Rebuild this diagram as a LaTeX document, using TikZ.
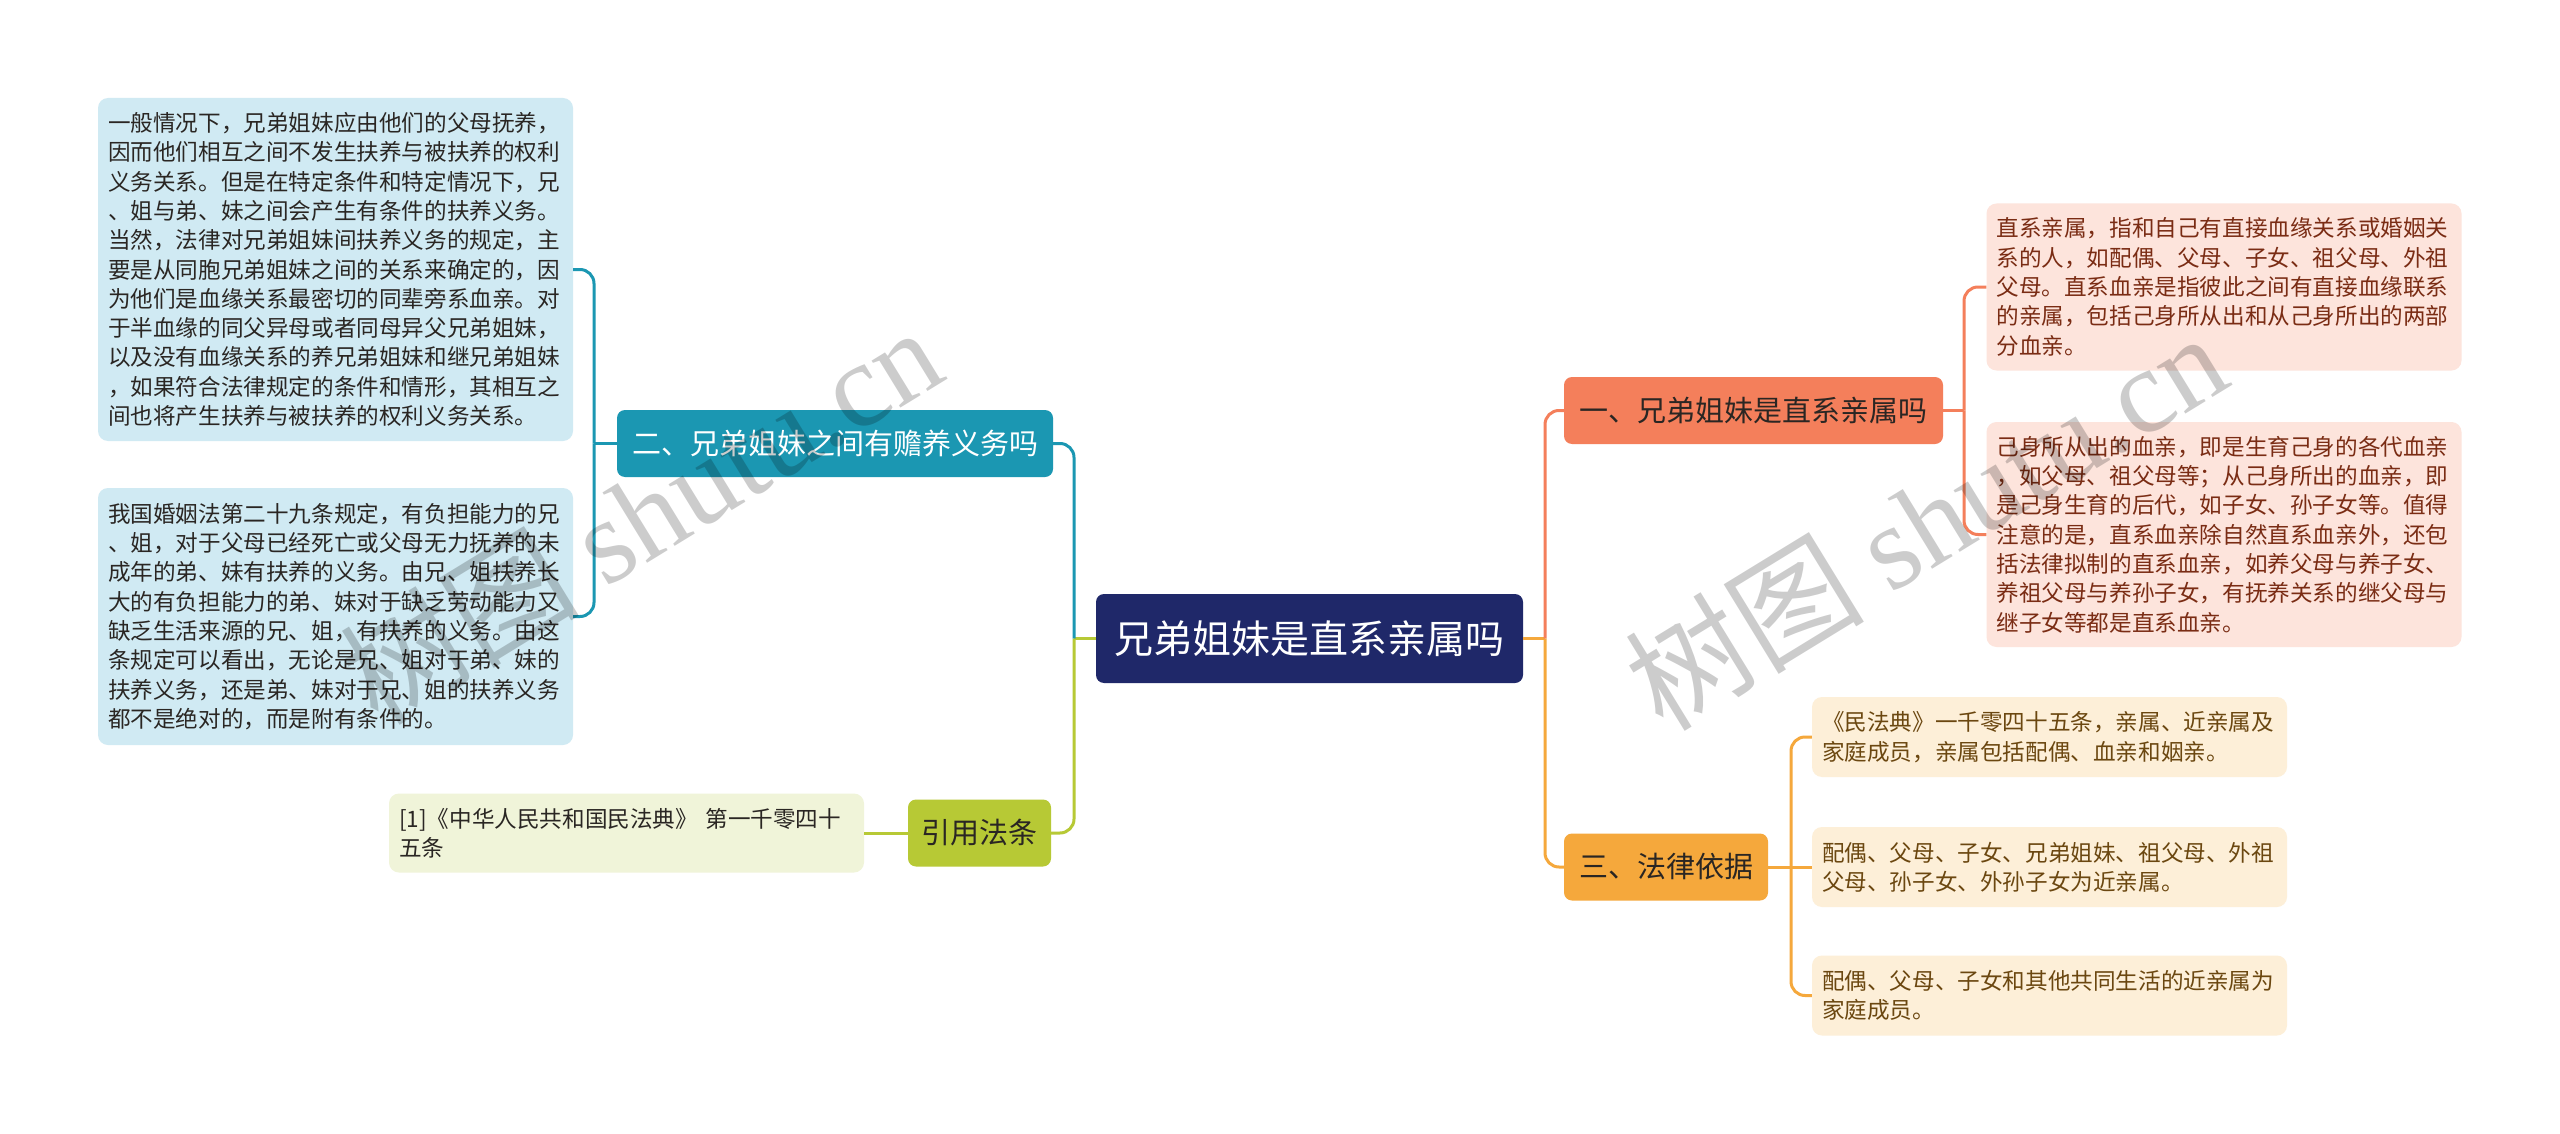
\documentclass[tikz,border=0pt]{standalone}
\usepackage{fontspec}
\setmainfont{Noto Sans CJK SC}
\newfontfamily\wmlatin{Liberation Serif}
\definecolor{navy}{HTML}{1F2869}
\definecolor{tealc}{HTML}{1B97B2}
\definecolor{bluel}{HTML}{D0EAF3}
\definecolor{limec}{HTML}{B7C935}
\definecolor{limel}{HTML}{F0F4D9}
\definecolor{coralc}{HTML}{F47F5B}
\definecolor{pinkl}{HTML}{FDE4DC}
\definecolor{orangec}{HTML}{F5A83C}
\definecolor{orangel}{HTML}{FDEFD8}
\definecolor{darktxt}{HTML}{2A2623}
\definecolor{redtxt}{HTML}{7A2C14}
\definecolor{browntxt}{HTML}{6B4710}
\begin{document}
\begin{tikzpicture}[x=1pt,y=-1pt,
  central/.style={fill=navy,text=white,rounded corners=8pt,inner sep=0pt,
    minimum width=427pt,minimum height=89pt,font=\fontsize{39}{45}\selectfont},
  branch/.style={rounded corners=8pt,inner sep=0pt,minimum height=67pt,
    text=darktxt,font=\fontsize{29}{35}\selectfont},
  leaf/.style={rounded corners=10pt,inner xsep=10pt,inner ysep=0pt,
    text width=455pt,align=left,font=\fontsize{22.6}{29.3}\selectfont},
  conn/.style={line width=3pt,rounded corners=14pt},
  wm/.style={text=black,opacity=0.2,font=\fontsize{120}{120}\selectfont}
]
\useasboundingbox (0,0) rectangle (2560,1134);
\fill[white] (0,0) rectangle (2560,1134);

% central
\node[central] (c) at (1309.5,638.5) {兄弟姐妹是直系亲属吗};

% level-1 branches
\node[branch,fill=tealc,text=white,minimum width=436pt] (n2) at (835,443.5) {二、兄弟姐妹之间有赡养义务吗};
\node[branch,fill=limec,minimum width=143pt] (n4) at (979.5,833) {引用法条};
\node[branch,fill=coralc,minimum width=379pt] (n1) at (1753.5,410.5) {一、兄弟姐妹是直系亲属吗};
\node[branch,fill=orangec,minimum width=204pt] (n3) at (1666,867) {三、法律依据};

% left leaves
\node[leaf,fill=bluel,text=darktxt,minimum height=343pt] (lA) at (335.5,269.5) {一般情况下，兄弟姐妹应由他们的父母抚养，\\因而他们相互之间不发生扶养与被扶养的权利\\义务关系。但是在特定条件和特定情况下，兄\\、姐与弟、妹之间会产生有条件的扶养义务。\\当然，法律对兄弟姐妹间扶养义务的规定，主\\要是从同胞兄弟姐妹之间的关系来确定的，因\\为他们是血缘关系最密切的同辈旁系血亲。对\\于半血缘的同父异母或者同母异父兄弟姐妹，\\以及没有血缘关系的养兄弟姐妹和继兄弟姐妹\\，如果符合法律规定的条件和情形，其相互之\\间也将产生扶养与被扶养的权利义务关系。};
\node[leaf,fill=bluel,text=darktxt,minimum height=257pt] (lB) at (335.5,616.5) {我国婚姻法第二十九条规定，有负担能力的兄\\、姐，对于父母已经死亡或父母无力抚养的未\\成年的弟、妹有扶养的义务。由兄、姐扶养长\\大的有负担能力的弟、妹对于缺乏劳动能力又\\缺乏生活来源的兄、姐，有扶养的义务。由这\\条规定可以看出，无论是兄、姐对于弟、妹的\\扶养义务，还是弟、妹对于兄、姐的扶养义务\\都不是绝对的，而是附有条件的。};
\node[leaf,fill=limel,text=darktxt,minimum height=79pt] (lC) at (626.5,833) {[1]《中华人民共和国民法典》 第一千零四十\\五条};

% right leaves
\node[leaf,fill=pinkl,text=redtxt,minimum height=167pt] (r1) at (2224,287) {直系亲属，指和自己有直接血缘关系或婚姻关\\系的人，如配偶、父母、子女、祖父母、外祖\\父母。直系血亲是指彼此之间有直接血缘联系\\的亲属，包括己身所从出和从己身所出的两部\\分血亲。};
\node[leaf,fill=pinkl,text=redtxt,minimum height=225pt] (r2) at (2224,534.5) {己身所从出的血亲，即是生育己身的各代血亲\\，如父母、祖父母等；从己身所出的血亲，即\\是己身生育的后代，如子女、孙子女等。值得\\注意的是，直系血亲除自然直系血亲外，还包\\括法律拟制的直系血亲，如养父母与养子女、\\养祖父母与养孙子女，有抚养关系的继父母与\\继子女等都是直系血亲。};
\node[leaf,fill=orangel,text=browntxt,minimum height=80pt] (r3) at (2049.5,737) {《民法典》一千零四十五条，亲属、近亲属及\\家庭成员，亲属包括配偶、血亲和姻亲。};
\node[leaf,fill=orangel,text=browntxt,minimum height=80pt] (r4) at (2049.5,867) {配偶、父母、子女、兄弟姐妹、祖父母、外祖\\父母、孙子女、外孙子女为近亲属。};
\node[leaf,fill=orangel,text=browntxt,minimum height=80pt] (r5) at (2049.5,995.5) {配偶、父母、子女和其他共同生活的近亲属为\\家庭成员。};

% junction coordinates
\coordinate (tl) at (1074,638.5);
\coordinate (tr) at (1545,638.5);
\coordinate (t2) at (594,443.5);
\coordinate (t1) at (1964,410.5);
\coordinate (t3) at (1791,867);

% connectors
\draw[conn,limec] (c.west) -- (tl);
\draw[conn,tealc] (tl) |- (n2.east);
\draw[conn,limec] (tl) |- (n4.east);
\draw[conn,orangec] (c.east) -- (tr);
\draw[conn,coralc] (tr) |- (n1.west);
\draw[conn,orangec] (tr) |- (n3.west);

\draw[conn,tealc] (n2.west) -- (t2);
\draw[conn,tealc] (t2) |- (lA.east);
\draw[conn,tealc] (t2) |- (lB.east);
\draw[conn,limec] (n4.west) -- (lC.east);

\draw[conn,coralc] (n1.east) -- (t1);
\draw[conn,coralc] (t1) |- (r1.west);
\draw[conn,coralc] (t1) |- (r2.west);

\draw[conn,orangec] (n3.east) -- (r4.west);
\draw[conn,orangec] (t3) |- (r3.west);
\draw[conn,orangec] (t3) |- (r5.west);

% watermarks
\node[wm,rotate=31.5] (wmL) at (640,514) {树图 {\wmlatin shutu.cn}};
\node[wm,rotate=31.5] (wmR) at (1925,520) {树图 {\wmlatin shutu.cn}};
\end{tikzpicture}
\end{document}
